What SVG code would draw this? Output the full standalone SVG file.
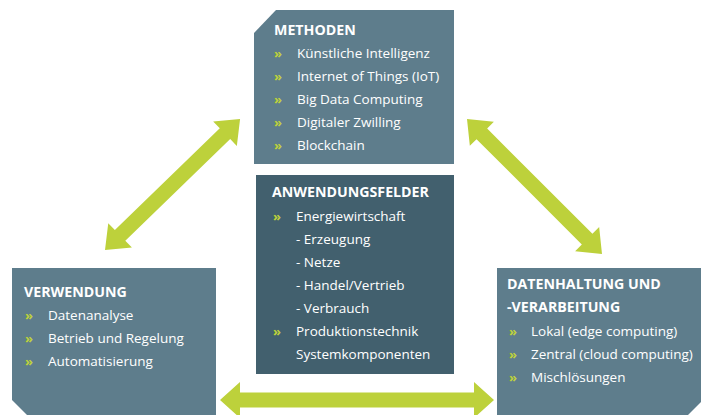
<svg xmlns="http://www.w3.org/2000/svg" width="706" height="415" viewBox="0 0 706 415">
  <style>
    .box { fill: #5e7d8c; }
    .box-dark { fill: #42606e; }
    .arrow { fill: #bdd13b; }
    text { font-family: "Open Sans", "Noto Sans", sans-serif; fill: #ffffff; }
    .title { font-size: 14.2px; font-weight: 700; }
    .item { font-size: 13.5px; }
    .bullet { fill: #bdd13b; font-size: 13px; font-weight: 700; }
  </style>

  <rect width="706" height="415" fill="#ffffff"/>

  <!-- double-headed arrows between the outer boxes -->
  <g id="connectors">
    <path class="arrow" transform="translate(105,250) rotate(-44.1)"
          d="M0,0 L21,-17 L21,-7.5 L167.1,-7.5 L167.1,-17 L188.1,0 L167.1,17 L167.1,7.5 L21,7.5 L21,17 Z"/>
    <path class="arrow" transform="translate(467,119) rotate(45)"
          d="M0,0 L21,-17 L21,-7.5 L169.9,-7.5 L169.9,-17 L190.9,0 L169.9,17 L169.9,7.5 L21,7.5 L21,17 Z"/>
    <path class="arrow" transform="translate(220,400)"
          d="M0,0 L20,-18 L20,-7.5 L254,-7.5 L254,-18 L274,0 L254,18 L254,7.5 L20,7.5 L20,18 Z"/>
  </g>

  <!-- top: methods -->
  <g id="methoden">
    <path class="box" d="M276,10 L454,10 L454,164 L254,164 L254,33 Z"/>
    <text class="title" x="274" y="35">METHODEN</text>
    <text class="bullet" x="274" y="58">»</text>
    <text class="item" x="297" y="58">Künstliche Intelligenz</text>
    <text class="bullet" x="274" y="81">»</text>
    <text class="item" x="297" y="81">Internet of Things (IoT)</text>
    <text class="bullet" x="274" y="104">»</text>
    <text class="item" x="297" y="104">Big Data Computing</text>
    <text class="bullet" x="274" y="127">»</text>
    <text class="item" x="297" y="127">Digitaler Zwilling</text>
    <text class="bullet" x="274" y="150">»</text>
    <text class="item" x="297" y="150">Blockchain</text>
  </g>

  <!-- centre: fields of application -->
  <g id="anwendungsfelder">
    <rect class="box-dark" x="256" y="175" width="198" height="199"/>
    <text class="title" x="272" y="197">ANWENDUNGSFELDER</text>
    <text class="bullet" x="273" y="221">»</text>
    <text class="item" x="296" y="221">Energiewirtschaft</text>
    <text class="item" x="296" y="244">- Erzeugung</text>
    <text class="item" x="296" y="267">- Netze</text>
    <text class="item" x="296" y="290">- Handel/Vertrieb</text>
    <text class="item" x="296" y="313">- Verbrauch</text>
    <text class="bullet" x="273" y="336">»</text>
    <text class="item" x="296" y="336">Produktionstechnik</text>
    <text class="item" x="296" y="359">Systemkomponenten</text>
  </g>

  <!-- bottom left: usage -->
  <g id="verwendung">
    <path class="box" d="M12,268 L216,268 L216,415 L27,415 L12,400 Z"/>
    <text class="title" x="24" y="297">VERWENDUNG</text>
    <text class="bullet" x="25" y="320">»</text>
    <text class="item" x="48" y="320">Datenanalyse</text>
    <text class="bullet" x="25" y="343">»</text>
    <text class="item" x="48" y="343">Betrieb und Regelung</text>
    <text class="bullet" x="25" y="366">»</text>
    <text class="item" x="48" y="366">Automatisierung</text>
  </g>

  <!-- bottom right: data storage and processing -->
  <g id="datenhaltung">
    <path class="box" d="M497,268 L701,268 L701,402 L688,415 L497,415 Z"/>
    <text class="title" x="507" y="289">DATENHALTUNG UND</text>
    <text class="title" x="507" y="312">-VERARBEITUNG</text>
    <text class="bullet" x="509" y="336">»</text>
    <text class="item" x="531" y="336">Lokal (edge computing)</text>
    <text class="bullet" x="509" y="359">»</text>
    <text class="item" x="531" y="359">Zentral (cloud computing)</text>
    <text class="bullet" x="509" y="382">»</text>
    <text class="item" x="531" y="382">Mischlösungen</text>
  </g>
</svg>
